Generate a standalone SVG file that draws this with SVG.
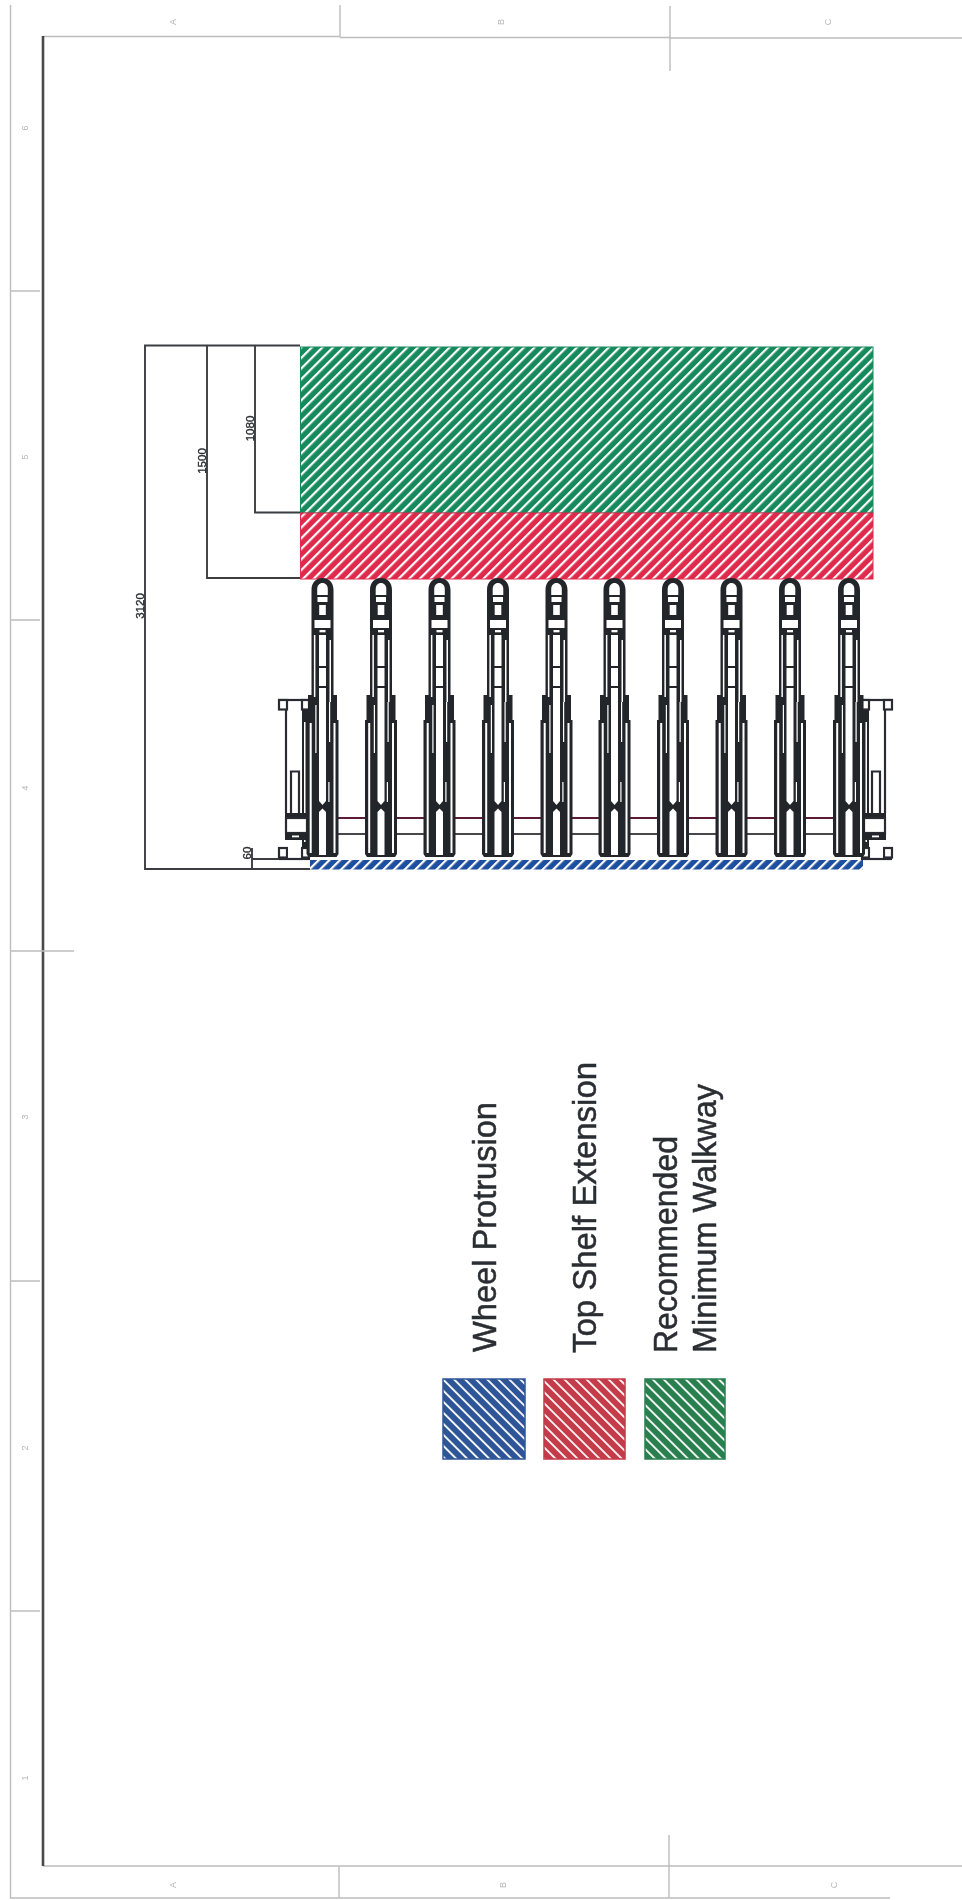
<svg xmlns="http://www.w3.org/2000/svg" width="962" height="1900" viewBox="0 0 962 1900">
<style>
.dim{fill:none;stroke:#3b3d42;stroke-width:1.9}
.pg{fill:none;stroke:#bdbdbd;stroke-width:1.4}
.d{fill:#24262b}
.w{fill:#fff}
.fr{fill:none;stroke:#2a2c31;stroke-width:2.2}
.bx{fill:#fff;stroke:#2a2c31;stroke-width:2.2}
.dl{font-family:"Liberation Sans",Arial,sans-serif;font-size:11.5px;fill:#2a2c31;stroke:#2a2c31;stroke-width:.35;text-anchor:middle}
.leg{font-family:"Liberation Sans",Arial,sans-serif;font-size:32.6px;fill:#2a2e33;stroke:#2a2e33;stroke-width:.5}
.gr{font-family:"Liberation Sans",Arial,sans-serif;font-size:9px;fill:#b5b5b5;text-anchor:middle}
</style>
<defs>
<filter id="soft" x="0" y="0" width="100%" height="100%" filterUnits="userSpaceOnUse" primitiveUnits="userSpaceOnUse"><feGaussianBlur stdDeviation="0.45"/></filter>
<pattern id="hG" width="7.5" height="7.5" patternUnits="userSpaceOnUse" patternTransform="rotate(45)"><rect width="7.5" height="7.5" fill="#158a5c"/><rect width="2.2" height="7.5" fill="#fff"/></pattern>
<pattern id="hR" width="7.5" height="7.5" patternUnits="userSpaceOnUse" patternTransform="rotate(45)"><rect width="7.5" height="7.5" fill="#e0294c"/><rect width="2.2" height="7.5" fill="#fff"/></pattern>
<pattern id="hB" width="7.5" height="7.5" patternUnits="userSpaceOnUse" patternTransform="rotate(45)"><rect width="7.5" height="7.5" fill="#1f4f9f"/><rect width="2.2" height="7.5" fill="#fff"/></pattern>
<pattern id="lB" width="7.8" height="7.8" patternUnits="userSpaceOnUse" patternTransform="rotate(-45)"><rect width="7.8" height="7.8" fill="#2f5597"/><rect width="1.8" height="7.8" fill="#fff"/></pattern>
<pattern id="lR" width="7.8" height="7.8" patternUnits="userSpaceOnUse" patternTransform="rotate(-45)"><rect width="7.8" height="7.8" fill="#c43a48"/><rect width="1.8" height="7.8" fill="#fff"/></pattern>
<pattern id="lG" width="7.8" height="7.8" patternUnits="userSpaceOnUse" patternTransform="rotate(-45)"><rect width="7.8" height="7.8" fill="#2a7f50"/><rect width="1.8" height="7.8" fill="#fff"/></pattern>
<g id="unit">
<path class="d" d="M-11 857V590C-11 582-6 578 0 578S11 582 11 590V695H14.500V720H16V854L14 857H-14L-16 854V720H-14.500V695H-11Z"/>
<path class="w" d="M-5.300 595V589C-5.300 585.500-3 583 0 583S5.300 585.500 5.300 589V595Z"/>
<rect class="w" x="-5" y="597" width="10" height="5"/>
<rect class="w" x="-3.300" y="605" width="6.600" height="10"/>
<rect class="w" x="-8" y="620" width="16" height="8"/>
<rect class="w" x="-3" y="630" width="6" height="2.300"/>
<rect class="w" x="-3.500" y="635" width="7" height="31"/>
<rect class="w" x="-3.500" y="668" width="7" height="18"/>
<path class="w" d="M-3.500 688H3.500V801L0 805L-3.500 801Z"/>
<path class="w" d="M-3.500 812L0 808.500L3.500 812V855H-3.500Z"/>
<rect class="w" x="-8.600" y="635" width="1.500" height="62"/>
<rect class="w" x="7" y="640" width="1.500" height="62"/>
<rect class="w" x="-12.800" y="723" width="2" height="130"/>
<rect class="w" x="11" y="723" width="2" height="130"/>
<rect class="w" x="-7.200" y="705" width="1.200" height="48"/>
<rect class="w" x="6.500" y="702" width="1.200" height="40"/>
<rect class="w" x="5.800" y="782" width="1.200" height="20"/>
</g>
<g id="frame">
<path class="fr" d="M278 700H310"/>
<rect class="bx" x="279" y="700" width="8" height="9.500"/>
<rect class="bx" x="302" y="700" width="7" height="9.500"/>
<rect class="bx" x="279" y="848" width="8" height="9.500"/>
<rect class="bx" x="302" y="848" width="7" height="9.500"/>
<path class="fr" d="M286 709V813"/>
<rect class="d" x="302" y="710" width="6" height="138"/>
<rect class="w" x="304" y="722" width="1.500" height="120"/>
<path class="bx" d="M291 813V771.500H299V813"/>
<rect class="d" x="285" y="813" width="22" height="5.500"/>
<rect class="bx" x="286" y="818" width="21" height="15"/>
<rect class="d" x="285" y="833" width="22" height="7"/>
<rect class="w" x="292" y="835.500" width="7" height="1.800"/>
<rect class="w" x="288" y="840" width="12.500" height="18"/>
<path class="fr" d="M279 859H310"/>
</g>
</defs>
<rect width="962" height="1900" fill="#fff"/>
<g filter="url(#soft)">
<g id="page-frame">
<path class="pg" d="M10.500 5V1898H890M43 36.500H340M340 37.500H670M670 38H962M43 1866H962"/>
<path d="M43 36V1866" fill="none" stroke="#4a4a4a" stroke-width="2.600"/>
<path class="pg" d="M340 5V37M670 6V71M339 1866V1898M669 1835V1898M10.500 291H40M10.500 620H40M10.500 951H74M10.500 1281H40M10.500 1611H40"/>
<g class="gr">
<text transform="translate(176 22) rotate(-90)">A</text>
<text transform="translate(504 22) rotate(-90)">B</text>
<text transform="translate(831 22) rotate(-90)">C</text>
<text transform="translate(176 1885) rotate(-90)">A</text>
<text transform="translate(506 1885) rotate(-90)">B</text>
<text transform="translate(837 1885) rotate(-90)">C</text>
<text transform="translate(28 128) rotate(-90)">6</text>
<text transform="translate(28 457) rotate(-90)">5</text>
<text transform="translate(28 788) rotate(-90)">4</text>
<text transform="translate(28 1117) rotate(-90)">3</text>
<text transform="translate(28 1448) rotate(-90)">2</text>
<text transform="translate(28 1778) rotate(-90)">1</text>
</g>
</g>
<g id="zones">
<rect id="walkway-zone" x="300.500" y="347" width="572.500" height="166" fill="url(#hG)" stroke="#158a5c" stroke-width="1"/>
<rect id="shelf-zone" x="300.500" y="513" width="572.500" height="66" fill="url(#hR)" stroke="#e0294c" stroke-width="1"/>
<rect id="wheel-zone" x="310" y="860" width="553" height="9.500" fill="url(#hB)"/>
</g>
<g id="connectors">
<path class="dim" d="M300 345.500H145V869H310"/>
<path class="dim" d="M207 345.500V578H300"/>
<path class="dim" d="M255 345.500V512.500H300"/>
<path class="dim" d="M252 848V869M252 859H310"/>
<path d="M310 818H863" fill="none" stroke="#5c1a38" stroke-width="1.800"/>
<path d="M310 834H863" fill="none" stroke="#45474b" stroke-width="1.800"/>
</g>
<g id="dim-labels">
<text class="dl" transform="translate(144 606) rotate(-90)">3120</text>
<text class="dl" transform="translate(206 461) rotate(-90)">1500</text>
<text class="dl" transform="translate(254 428.500) rotate(-90)">1080</text>
<text class="dl" transform="translate(251 853) rotate(-90)">60</text>
</g>
<g id="frame-left"><use href="#frame"/></g>
<g id="frame-right"><use href="#frame" transform="translate(1171 0) scale(-1 1)"/></g>
<g id="unit-1"><use href="#unit" x="322.500"/></g>
<g id="unit-2"><use href="#unit" x="381"/></g>
<g id="unit-3"><use href="#unit" x="439.500"/></g>
<g id="unit-4"><use href="#unit" x="498"/></g>
<g id="unit-5"><use href="#unit" x="556.500"/></g>
<g id="unit-6"><use href="#unit" x="614.500"/></g>
<g id="unit-7"><use href="#unit" x="673"/></g>
<g id="unit-8"><use href="#unit" x="731.500"/></g>
<g id="unit-9"><use href="#unit" x="790"/></g>
<g id="unit-10"><use href="#unit" x="849"/></g>
<g id="legend-wheel">
<rect x="443" y="1379" width="82" height="80" fill="url(#lB)" stroke="#2f5597" stroke-width="1.500"/>
<text class="leg" transform="translate(496 1352) rotate(-90)" textLength="250" lengthAdjust="spacingAndGlyphs">Wheel Protrusion</text>
</g>
<g id="legend-shelf">
<rect x="544" y="1379" width="81" height="80" fill="url(#lR)" stroke="#c43a48" stroke-width="1.500"/>
<text class="leg" transform="translate(596 1353) rotate(-90)" textLength="291" lengthAdjust="spacingAndGlyphs">Top Shelf Extension</text>
</g>
<g id="legend-walkway">
<rect x="645" y="1379" width="80" height="80" fill="url(#lG)" stroke="#2a7f50" stroke-width="1.500"/>
<text class="leg" transform="translate(677 1353) rotate(-90)" textLength="217" lengthAdjust="spacingAndGlyphs">Recommended</text>
<text class="leg" transform="translate(716 1353) rotate(-90)" textLength="269" lengthAdjust="spacingAndGlyphs">Minimum Walkway</text>
</g>
</g>
</svg>
